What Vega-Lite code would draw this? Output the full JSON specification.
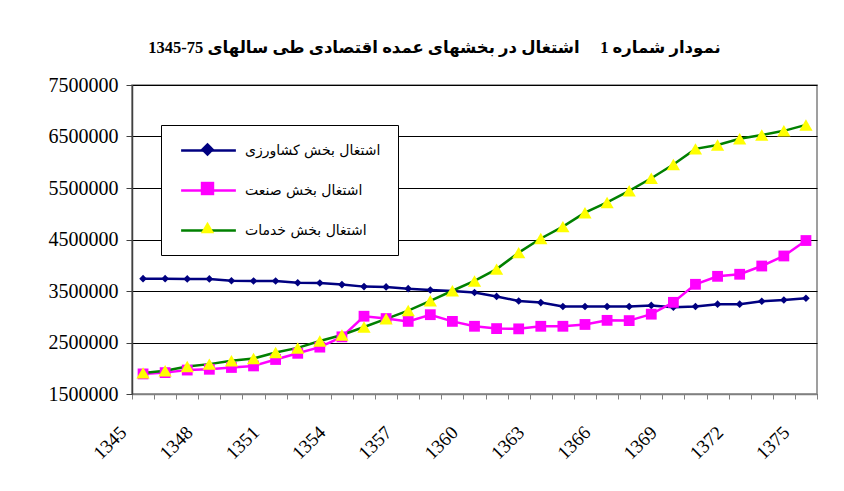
{
  "$schema": "https://vega.github.io/schema/vega-lite/v6.json",
  "width": 685,
  "height": 309,
  "autosize": {"type": "none"},
  "padding": {"left": 132, "top": 85, "right": 27, "bottom": 97},
  "background": "white",
  "title": {
    "text": "نمودار شماره 1\u00a0\u00a0\u00a0\u00a0 اشتغال در بخشهای عمده اقتصادی طی سالهای 75-1345",
    "font": "Liberation Serif, DejaVu Serif, DejaVu Sans",
    "fontSize": 16.5,
    "fontWeight": "bold",
    "color": "black",
    "anchor": "middle",
    "dx": -40,
    "offset": 19
  },
  "config": {
    "view": {"stroke": "#808080", "strokeWidth": 1.5}
  },
  "data": {"values": [
    {"year": 1345, "series": "اشتغال بخش کشاورزی", "value": 3740000},
    {"year": 1346, "series": "اشتغال بخش کشاورزی", "value": 3740000},
    {"year": 1347, "series": "اشتغال بخش کشاورزی", "value": 3735000},
    {"year": 1348, "series": "اشتغال بخش کشاورزی", "value": 3735000},
    {"year": 1349, "series": "اشتغال بخش کشاورزی", "value": 3700000},
    {"year": 1350, "series": "اشتغال بخش کشاورزی", "value": 3695000},
    {"year": 1351, "series": "اشتغال بخش کشاورزی", "value": 3695000},
    {"year": 1352, "series": "اشتغال بخش کشاورزی", "value": 3660000},
    {"year": 1353, "series": "اشتغال بخش کشاورزی", "value": 3655000},
    {"year": 1354, "series": "اشتغال بخش کشاورزی", "value": 3625000},
    {"year": 1355, "series": "اشتغال بخش کشاورزی", "value": 3585000},
    {"year": 1356, "series": "اشتغال بخش کشاورزی", "value": 3580000},
    {"year": 1357, "series": "اشتغال بخش کشاورزی", "value": 3545000},
    {"year": 1358, "series": "اشتغال بخش کشاورزی", "value": 3520000},
    {"year": 1359, "series": "اشتغال بخش کشاورزی", "value": 3500000},
    {"year": 1360, "series": "اشتغال بخش کشاورزی", "value": 3470000},
    {"year": 1361, "series": "اشتغال بخش کشاورزی", "value": 3395000},
    {"year": 1362, "series": "اشتغال بخش کشاورزی", "value": 3305000},
    {"year": 1363, "series": "اشتغال بخش کشاورزی", "value": 3275000},
    {"year": 1364, "series": "اشتغال بخش کشاورزی", "value": 3200000},
    {"year": 1365, "series": "اشتغال بخش کشاورزی", "value": 3200000},
    {"year": 1366, "series": "اشتغال بخش کشاورزی", "value": 3200000},
    {"year": 1367, "series": "اشتغال بخش کشاورزی", "value": 3200000},
    {"year": 1368, "series": "اشتغال بخش کشاورزی", "value": 3220000},
    {"year": 1369, "series": "اشتغال بخش کشاورزی", "value": 3185000},
    {"year": 1370, "series": "اشتغال بخش کشاورزی", "value": 3200000},
    {"year": 1371, "series": "اشتغال بخش کشاورزی", "value": 3245000},
    {"year": 1372, "series": "اشتغال بخش کشاورزی", "value": 3245000},
    {"year": 1373, "series": "اشتغال بخش کشاورزی", "value": 3300000},
    {"year": 1374, "series": "اشتغال بخش کشاورزی", "value": 3325000},
    {"year": 1375, "series": "اشتغال بخش کشاورزی", "value": 3360000},
    {"year": 1345, "series": "اشتغال بخش صنعت", "value": 1890000},
    {"year": 1346, "series": "اشتغال بخش صنعت", "value": 1915000},
    {"year": 1347, "series": "اشتغال بخش صنعت", "value": 1965000},
    {"year": 1348, "series": "اشتغال بخش صنعت", "value": 1980000},
    {"year": 1349, "series": "اشتغال بخش صنعت", "value": 2015000},
    {"year": 1350, "series": "اشتغال بخش صنعت", "value": 2045000},
    {"year": 1351, "series": "اشتغال بخش صنعت", "value": 2170000},
    {"year": 1352, "series": "اشتغال بخش صنعت", "value": 2290000},
    {"year": 1353, "series": "اشتغال بخش صنعت", "value": 2410000},
    {"year": 1354, "series": "اشتغال بخش صنعت", "value": 2610000},
    {"year": 1355, "series": "اشتغال بخش صنعت", "value": 3010000},
    {"year": 1356, "series": "اشتغال بخش صنعت", "value": 2965000},
    {"year": 1357, "series": "اشتغال بخش صنعت", "value": 2910000},
    {"year": 1358, "series": "اشتغال بخش صنعت", "value": 3040000},
    {"year": 1359, "series": "اشتغال بخش صنعت", "value": 2910000},
    {"year": 1360, "series": "اشتغال بخش صنعت", "value": 2815000},
    {"year": 1361, "series": "اشتغال بخش صنعت", "value": 2770000},
    {"year": 1362, "series": "اشتغال بخش صنعت", "value": 2765000},
    {"year": 1363, "series": "اشتغال بخش صنعت", "value": 2815000},
    {"year": 1364, "series": "اشتغال بخش صنعت", "value": 2815000},
    {"year": 1365, "series": "اشتغال بخش صنعت", "value": 2850000},
    {"year": 1366, "series": "اشتغال بخش صنعت", "value": 2930000},
    {"year": 1367, "series": "اشتغال بخش صنعت", "value": 2925000},
    {"year": 1368, "series": "اشتغال بخش صنعت", "value": 3050000},
    {"year": 1369, "series": "اشتغال بخش صنعت", "value": 3280000},
    {"year": 1370, "series": "اشتغال بخش صنعت", "value": 3630000},
    {"year": 1371, "series": "اشتغال بخش صنعت", "value": 3785000},
    {"year": 1372, "series": "اشتغال بخش صنعت", "value": 3825000},
    {"year": 1373, "series": "اشتغال بخش صنعت", "value": 3985000},
    {"year": 1374, "series": "اشتغال بخش صنعت", "value": 4180000},
    {"year": 1375, "series": "اشتغال بخش صنعت", "value": 4480000},
    {"year": 1345, "series": "اشتغال بخش خدمات", "value": 1910000},
    {"year": 1346, "series": "اشتغال بخش خدمات", "value": 1950000},
    {"year": 1347, "series": "اشتغال بخش خدمات", "value": 2035000},
    {"year": 1348, "series": "اشتغال بخش خدمات", "value": 2080000},
    {"year": 1349, "series": "اشتغال بخش خدمات", "value": 2145000},
    {"year": 1350, "series": "اشتغال بخش خدمات", "value": 2190000},
    {"year": 1351, "series": "اشتغال بخش خدمات", "value": 2305000},
    {"year": 1352, "series": "اشتغال بخش خدمات", "value": 2395000},
    {"year": 1353, "series": "اشتغال بخش خدمات", "value": 2530000},
    {"year": 1354, "series": "اشتغال بخش خدمات", "value": 2645000},
    {"year": 1355, "series": "اشتغال بخش خدمات", "value": 2800000},
    {"year": 1356, "series": "اشتغال بخش خدمات", "value": 2960000},
    {"year": 1357, "series": "اشتغال بخش خدمات", "value": 3120000},
    {"year": 1358, "series": "اشتغال بخش خدمات", "value": 3310000},
    {"year": 1359, "series": "اشتغال بخش خدمات", "value": 3505000},
    {"year": 1360, "series": "اشتغال بخش خدمات", "value": 3695000},
    {"year": 1361, "series": "اشتغال بخش خدمات", "value": 3925000},
    {"year": 1362, "series": "اشتغال بخش خدمات", "value": 4245000},
    {"year": 1363, "series": "اشتغال بخش خدمات", "value": 4520000},
    {"year": 1364, "series": "اشتغال بخش خدمات", "value": 4750000},
    {"year": 1365, "series": "اشتغال بخش خدمات", "value": 5020000},
    {"year": 1366, "series": "اشتغال بخش خدمات", "value": 5220000},
    {"year": 1367, "series": "اشتغال بخش خدمات", "value": 5445000},
    {"year": 1368, "series": "اشتغال بخش خدمات", "value": 5690000},
    {"year": 1369, "series": "اشتغال بخش خدمات", "value": 5955000},
    {"year": 1370, "series": "اشتغال بخش خدمات", "value": 6260000},
    {"year": 1371, "series": "اشتغال بخش خدمات", "value": 6335000},
    {"year": 1372, "series": "اشتغال بخش خدمات", "value": 6455000},
    {"year": 1373, "series": "اشتغال بخش خدمات", "value": 6530000},
    {"year": 1374, "series": "اشتغال بخش خدمات", "value": 6610000},
    {"year": 1375, "series": "اشتغال بخش خدمات", "value": 6725000}
  ]},
  "encoding": {
    "x": {
      "field": "year",
      "type": "ordinal",
      "scale": {"type": "band", "paddingInner": 0, "paddingOuter": 0},
      "axis": {
        "title": null,
        "tickBand": "extent",
        "tickSize": 5,
        "tickColor": "#808080",
        "domainColor": "#808080",
        "domainWidth": 1.5,
        "labelFont": "Liberation Serif, DejaVu Serif, serif",
        "labelFontSize": 19,
        "labelColor": "black",
        "labelAngle": -45,
        "labelAlign": "right",
        "labelBaseline": "middle",
        "labelOffset": -20,
        "labelPadding": 30,
        "labelOverlap": false,
        "labelExpr": "(datum.value - 1345) % 3 == 0 ? datum.label : ''"
      }
    },
    "y": {
      "field": "value",
      "type": "quantitative",
      "scale": {"domain": [1500000, 7500000], "nice": false, "zero": false},
      "axis": {
        "title": null,
        "values": [1500000, 2500000, 3500000, 4500000, 5500000, 6500000, 7500000],
        "format": "d",
        "labelFont": "Liberation Serif, DejaVu Serif, serif",
        "labelFontSize": 20,
        "labelColor": "black",
        "tickSize": 6,
        "tickColor": "#404040",
        "domainColor": "#404040",
        "domainWidth": 1.5,
        "labelPadding": 8,
        "grid": true,
        "gridColor": "black",
        "gridWidth": 1.2
      }
    }
  },
  "layer": [
    {
      "mark": {"type": "line", "strokeWidth": 2.5},
      "encoding": {
        "color": {
          "field": "series",
          "type": "nominal",
          "scale": {"domain": ["اشتغال بخش کشاورزی", "اشتغال بخش صنعت", "اشتغال بخش خدمات", "-"], "range": ["#000080", "#FF00FF", "#008000", "#000000"]},
          "legend": {
            "values": ["اشتغال بخش کشاورزی", "اشتغال بخش صنعت", "اشتغال بخش خدمات"],
            "title": null,
            "orient": "none",
            "legendX": 29,
            "legendY": 40,
            "padding": 17.5,
            "strokeColor": "black",
            "fillColor": "white",
            "symbolType": "M-4.2,0H4.2",
            "symbolSize": 170,
            "symbolStrokeWidth": 2.5,
            "symbolOffset": 22,
            "rowPadding": 25,
            "labelOffset": 28.5,
            "labelFont": "DejaVu Sans",
            "labelFontSize": 14,
            "labelColor": "black",
            "labelLimit": 400
          }
        }
      }
    },
    {
      "mark": {"type": "point", "filled": true, "opacity": 1, "strokeWidth": 0},
      "encoding": {
        "fill": {
          "field": "series",
          "type": "nominal",
          "scale": {"domain": ["اشتغال بخش کشاورزی", "اشتغال بخش صنعت", "اشتغال بخش خدمات"], "range": ["#000080", "#FF00FF", "#FFFF00"]},
          "legend": {
            "title": null,
            "orient": "none",
            "legendX": 29,
            "legendY": 40,
            "padding": 17.5,
            "symbolSize": 180,
            "symbolStrokeWidth": 0,
            "symbolOpacity": 1,
            "symbolOffset": 22,
            "rowPadding": 25,
            "labelOffset": 28.5,
            "labelFont": "DejaVu Sans",
            "labelFontSize": 14,
            "labelOpacity": 0,
            "labelExpr": "''",
            "labelLimit": 400
          }
        },
        "shape": {
          "field": "series",
          "type": "nominal",
          "scale": {"domain": ["اشتغال بخش کشاورزی", "اشتغال بخش صنعت", "اشتغال بخش خدمات"], "range": ["diamond", "square", "triangle-up"]},
          "legend": {
            "title": null,
            "orient": "none",
            "legendX": 29,
            "legendY": 40,
            "padding": 17.5,
            "symbolSize": 180,
            "symbolStrokeWidth": 0,
            "symbolOpacity": 1,
            "symbolOffset": 22,
            "rowPadding": 25,
            "labelOffset": 28.5,
            "labelFont": "DejaVu Sans",
            "labelFontSize": 14,
            "labelOpacity": 0,
            "labelExpr": "''",
            "labelLimit": 400
          }
        },
        "size": {
          "field": "series",
          "type": "nominal",
          "scale": {"domain": ["-", "اشتغال بخش کشاورزی", "اشتغال بخش صنعت", "اشتغال بخش خدمات"], "range": [0, 175, 110, 230]},
          "legend": null
        }
      }
    }
  ]
}
